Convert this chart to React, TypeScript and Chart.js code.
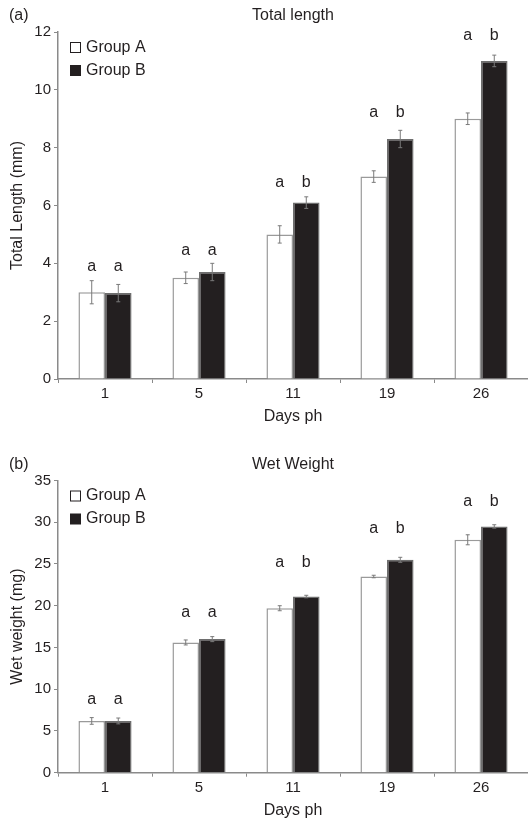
import React, { useEffect, useRef } from "react";
import { Chart, registerables } from "chart.js";
Chart.register(...registerables);

const days = ["1", "5", "11", "19", "26"];
const groupNames = ["Group A", "Group B"];

const lengthA = [3.0, 3.5, 5.0, 7.0, 9.0];
const lengthB = [2.97, 3.7, 6.1, 8.3, 11.0];
const lengthErrA = [0.4, 0.2, 0.3, 0.2, 0.2];
const lengthErrB = [0.3, 0.3, 0.2, 0.3, 0.2];
const lengthLettersA = ["a", "a", "a", "a", "a"];
const lengthLettersB = ["a", "a", "b", "b", "b"];
const lengthLetterLevel = [3.9, 4.43, 6.78, 9.21, 11.87];

const weightA = [6.2, 15.6, 19.7, 23.5, 27.9];
const weightB = [6.2, 16.0, 21.1, 25.5, 29.5];
const weightErrA = [0.4, 0.3, 0.3, 0.15, 0.6];
const weightErrB = [0.35, 0.3, 0.15, 0.3, 0.2];
const weightLettersA = ["a", "a", "a", "a", "a"];
const weightLettersB = ["a", "a", "b", "b", "b"];
const weightLetterLevel = [8.7, 19.2, 25.2, 29.2, 32.5];

const FONT = "'Liberation Sans', Arial, Helvetica, sans-serif";
const TEXT = "#231f20";
const AXIS = "#8a8a8a";

type PanelCfg = {
  tag: string;
  title: string;
  yTitle: string;
  a: number[];
  b: number[];
  errA: number[];
  errB: number[];
  lettersA: string[];
  lettersB: string[];
  letterLevel: number[];
  max: number;
  step: number;
  height: number;
  top: number;
  bottom: number;
};

function Panel({ cfg }: { cfg: PanelCfg }) {
  const ref = useRef<HTMLCanvasElement | null>(null);
  useEffect(() => {
    if (!ref.current) return;
    const annot = {
      id: "annot",
      afterDatasetsDraw(chart: any) {
        const ctx = chart.ctx;
        const ys = chart.scales.y;
        const errs = [cfg.errA, cfg.errB];
        const letters = [cfg.lettersA, cfg.lettersB];
        ctx.save();
        for (let di = 0; di < 2; di++) {
          const meta = chart.getDatasetMeta(di);
          meta.data.forEach((bar: any, j: number) => {
            const v = chart.data.datasets[di].data[j] as number;
            const yt = ys.getPixelForValue(v + errs[di][j]);
            const yb = ys.getPixelForValue(v - errs[di][j]);
            ctx.strokeStyle = "#7a7a7a";
            ctx.lineWidth = 1;
            ctx.beginPath();
            ctx.moveTo(bar.x, yt);
            ctx.lineTo(bar.x, yb);
            ctx.moveTo(bar.x - 2, yt);
            ctx.lineTo(bar.x + 2, yt);
            ctx.moveTo(bar.x - 2, yb);
            ctx.lineTo(bar.x + 2, yb);
            ctx.stroke();
            ctx.fillStyle = TEXT;
            ctx.font = `16px ${FONT}`;
            ctx.textAlign = "center";
            ctx.textBaseline = "middle";
            ctx.fillText(letters[di][j], bar.x, ys.getPixelForValue(cfg.letterLevel[j]));
          });
        }
        ctx.restore();
      },
      afterDraw(chart: any) {
        const ctx = chart.ctx;
        const ca = chart.chartArea;
        ctx.save();
        ctx.fillStyle = TEXT;
        ctx.font = `16px ${FONT}`;
        ctx.textBaseline = "middle";
        ctx.textAlign = "left";
        ctx.fillText(cfg.tag, 9, ca.top - 16);
        ctx.textAlign = "center";
        ctx.fillText(cfg.title, (ca.left + ca.right) / 2, ca.top - 16);
        ctx.fillText("Days ph", (ca.left + ca.right) / 2, ca.bottom + 38);
        // legend
        const rows = [ca.top + 15.5, ca.top + 38.5];
        rows.forEach((ry, i) => {
          if (i === 0) {
            ctx.fillStyle = "#fff";
            ctx.fillRect(70.5, ry - 5, 10, 10);
            ctx.strokeStyle = TEXT;
            ctx.lineWidth = 1;
            ctx.strokeRect(70.5, ry - 5, 10, 10);
          } else {
            ctx.fillStyle = TEXT;
            ctx.fillRect(70, ry - 5.5, 11, 11);
          }
          ctx.fillStyle = TEXT;
          ctx.textAlign = "left";
          ctx.fillText(groupNames[i], 86, ry);
        });
        // y title
        ctx.translate(18, (ca.top + ca.bottom) / 2);
        ctx.rotate(-Math.PI / 2);
        ctx.textAlign = "center";
        ctx.fillText(cfg.yTitle, 0, 0);
        ctx.restore();
      },
    };
    const chart = new Chart(ref.current, {
      type: "bar",
      data: {
        labels: days,
        datasets: [
          {
            label: groupNames[0],
            data: cfg.a,
            backgroundColor: "#ffffff",
            borderColor: "#9a9a9a",
            borderWidth: 1.5,
            categoryPercentage: 0.565,
            barPercentage: 1,
          },
          {
            label: groupNames[1],
            data: cfg.b,
            backgroundColor: "#231f20",
            borderColor: "#6e6e6e",
            borderWidth: 1.5,
            categoryPercentage: 0.565,
            barPercentage: 1,
          },
        ],
      },
      options: {
        responsive: false,
        animation: false,
        layout: { padding: { top: cfg.top, left: 0, right: 0, bottom: 0 } },
        plugins: { legend: { display: false }, title: { display: false }, tooltip: { enabled: false } },
        scales: {
          x: {
            grid: { display: true, drawOnChartArea: false, drawTicks: true, tickLength: 4, color: AXIS, offset: true },
            border: { display: true, color: AXIS, width: 1.5 },
            ticks: { color: TEXT, font: { family: FONT, size: 15 }, padding: 2, maxRotation: 0 },
            afterFit: (s: any) => {
              s.height = cfg.height - cfg.bottom;
            },
          },
          y: {
            min: 0,
            max: cfg.max,
            ticks: { stepSize: cfg.step, color: TEXT, font: { family: FONT, size: 15 }, padding: 3 },
            grid: { display: true, drawOnChartArea: false, drawTicks: true, tickLength: 4, color: AXIS },
            border: { display: true, color: AXIS, width: 1.5 },
            afterFit: (s: any) => {
              s.width = 58;
            },
          },
        },
      },
      plugins: [annot],
    });
    return () => chart.destroy();
  }, [cfg]);
  return <canvas ref={ref} width={528} height={cfg.height} style={{ display: "block" }} />;
}

const top: PanelCfg = {
  tag: "(a)",
  title: "Total length",
  yTitle: "Total Length (mm)",
  a: lengthA,
  b: lengthB,
  errA: lengthErrA,
  errB: lengthErrB,
  lettersA: lengthLettersA,
  lettersB: lengthLettersB,
  letterLevel: lengthLetterLevel,
  max: 12,
  step: 2,
  height: 430,
  top: 32,
  bottom: 379,
};

const bottom: PanelCfg = {
  tag: "(b)",
  title: "Wet Weight",
  yTitle: "Wet weight (mg)",
  a: weightA,
  b: weightB,
  errA: weightErrA,
  errB: weightErrB,
  lettersA: weightLettersA,
  lettersB: weightLettersB,
  letterLevel: weightLetterLevel,
  max: 35,
  step: 5,
  height: 389,
  top: 50.5,
  bottom: 342.7,
};

export default function App() {
  return (
    <div style={{ position: "fixed", left: 0, top: 0, width: 528, height: 819, background: "#fff" }}>
      <Panel cfg={top} />
      <Panel cfg={bottom} />
    </div>
  );
}
